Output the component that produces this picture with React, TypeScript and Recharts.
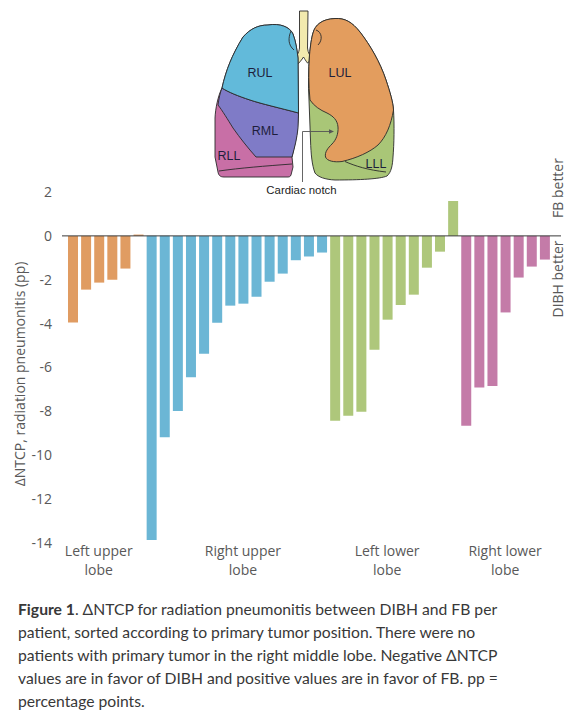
import React from 'react';
import { BarChart, Bar, XAxis, YAxis, Cell, ReferenceLine } from 'recharts';

// ---- data ----
const leftUpper = [-3.95, -2.45, -2.13, -2.0, -1.49, 0.06];
const rightUpper = [-13.86, -9.18, -7.98, -6.45, -5.37, -3.96, -3.18, -3.09, -2.77, -2.09, -1.72, -1.11, -0.94, -0.76];
const leftLower = [-8.43, -8.2, -8.02, -5.19, -3.82, -3.15, -2.68, -1.45, -0.72, 1.59];
const rightLower = [-8.66, -6.91, -6.84, -3.49, -1.9, -1.4, -1.08];

const groupNames = [
  ['Left upper', 'lobe'],
  ['Right upper', 'lobe'],
  ['Left lower', 'lobe'],
  ['Right lower', 'lobe'],
];
const groupColors = ['#E09C62', '#6BB6D5', '#AEC77B', '#C47BA8'];
const groupTickIndex = [2, 13, 24, 33];
const yTicks = [-14, -12, -10, -8, -6, -4, -2, 0, 2];

const groupValues = [leftUpper, rightUpper, leftLower, rightLower];
const data: { id: number; value: number; group: number }[] = [];
groupValues.forEach((vals, g) => {
  vals.forEach((v) => data.push({ id: data.length, value: v, group: g }));
});

const FONT = '"Open Sans", "Noto Sans", sans-serif';
const AXIS_COLOR = '#595959';

const GroupTick = (props: any) => {
  const { x, y, payload } = props;
  const gi = groupTickIndex.indexOf(payload.value);
  if (gi < 0) return null;
  const lines = groupNames[gi];
  return (
    <text x={x} y={y} textAnchor="middle" fill={AXIS_COLOR} fontSize={14} fontFamily={FONT}>
      <tspan x={x} dy={12.7}>{lines[0]}</tspan>
      <tspan x={x} dy={19}>{lines[1]}</tspan>
    </text>
  );
};

const Lungs = () => (
  <svg width={578} height={200} style={{ position: 'absolute', left: 0, top: 0 }}>
    <g stroke="#2a2a2a" strokeWidth={0.9} strokeLinejoin="round">
      {/* trachea */}
      <path
        d="M 299.5,11 L 308,11 L 307.5,48 C 308,53 310,56 312.5,58.5 L 307.5,63 C 305.5,60.5 304.5,58.5 303.5,57 C 302,59.5 299.5,62.5 296,66 L 292,62 C 296,58 299,53 299.5,48 Z"
        fill="#F2EAAE"
      />
      {/* right lung (image left): RLL base */}
      <path
        d="M 268,25 C 280,23 290,27 293,34 C 296,42 297,50 298,58 L 298.5,113 C 298,128 296,140 294.5,146 L 292,157 L 293,167 L 291.5,173 C 291,176 290,177 288,177 L 224,177 C 220,177 218.5,175 218,172 L 215,157 L 215,118 C 215.5,108 218,96 222,88 C 226,70 232,55 243,37 C 250,29 258,25 268,25 Z"
        fill="#C86FA6"
      />
      {/* RML */}
      <path
        d="M 222,88 C 228,92 238,96 250,100 C 262,104 280,108 298.5,113 L 298,128 C 297,138 295,146 292,157 L 256,157 C 248,148 240,138 233,128 C 228,120 222,110 218,105 C 219,98 220,93 222,88 Z"
        fill="#7F7BC7"
      />
      {/* RUL */}
      <path
        d="M 222,88 C 226,70 232,55 243,37 C 250,29 258,25 268,25 C 280,23 290,27 293,34 C 296,42 297,50 298,58 L 298.5,113 C 280,108 262,104 250,100 C 238,96 228,92 222,88 Z"
        fill="#62BADA"
      />
      <path d="M 219,171 C 240,168 265,166 292,164" fill="none" />
      <path d="M 291,31 C 288,38 288,45 294,50" fill="none" />
      {/* left lung (image right): LLL base */}
      <path
        d="M 313,33 C 315,25 322,19 335,18.5 C 345,18 352,22 360,32 C 370,45 380,62 386,80 C 390,92 393,102 393.5,110 C 394.5,125 394,145 393,157 C 392.5,165 391.5,172 387,176 C 380,179 360,180 335,180 C 325,179.5 318,177 315,173 C 312,165 311,155 310.5,140 L 309,100 C 308,85 308.5,70 309.5,55 C 310.5,45 311.5,38 313,33 Z"
        fill="#A9C677"
      />
      {/* LUL */}
      <path
        d="M 313,33 C 315,25 322,19 335,18.5 C 345,18 352,22 360,32 C 370,45 380,62 386,80 C 390,92 393,102 393.5,110 C 391,125 386,137 378,145 C 370,152 357,158 342,161.5 C 334,162.5 327,161 325.5,157 C 324.5,152 328,148 332,144 C 336,140 338.5,134 338,127 C 337.5,120 333,116 327,113 C 320,110 314,106 310,100 C 308.5,85 308.5,70 309.5,55 C 310.5,45 311.5,38 313,33 Z"
        fill="#E39D5E"
      />
      <path d="M 345,161.5 C 355,166 368,170 386,172" fill="none" />
      <path d="M 316,30 C 322,32 323,40 318,45" fill="none" />
    </g>
    {/* cardiac notch pointer */}
    <g stroke="#555" strokeWidth={0.9} fill="none">
      <path d="M 302.5,182 L 302.5,131.5 L 331,131.5" />
    </g>
    <path d="M 334,131.5 L 329,129.3 L 329,133.7 Z" fill="#555" />
    <g fontFamily='"Liberation Sans", Arial, sans-serif' fill="#1E1E3C" fontSize={12.5} textAnchor="middle">
      <text x={260} y={76.5}>RUL</text>
      <text x={340} y={76.5}>LUL</text>
      <text x={265} y={134.5}>RML</text>
      <text x={229} y={159.5}>RLL</text>
      <text x={376} y={167.5}>LLL</text>
    </g>
    <text x={301.5} y={194} fontFamily='"Liberation Sans", Arial, sans-serif' fontSize={11.4} fill="#222" textAnchor="middle">
      Cardiac notch
    </text>
  </svg>
);

const SideLabels = () => (
  <svg width={578} height={600} style={{ position: 'absolute', left: 0, top: 0, pointerEvents: 'none' }}>
    <g fontFamily={FONT} fontSize={14} fill={AXIS_COLOR} textAnchor="middle" dominantBaseline="central">
      <text transform="translate(19,374) rotate(-90)">ΔNTCP, radiation pneumonitis (pp)</text>
      <text transform="translate(557,188) rotate(-90)">FB better</text>
      <text transform="translate(557,279) rotate(-90)">DIBH better</text>
    </g>
  </svg>
);

const captionLines = [
  'ΔNTCP for radiation pneumonitis between DIBH and FB per',
  'patient, sorted according to primary tumor position. There were no',
  'patients with primary tumor in the right middle lobe. Negative ΔNTCP',
  'values are in favor of DIBH and positive values are in favor of FB. pp =',
  'percentage points.',
];

export default function App() {
  return (
    <div style={{ position: 'absolute', left: 0, top: 0, width: 578, height: 719, background: '#fff', overflow: 'hidden' }}>
      <div style={{ position: 'absolute', left: 0, top: 0 }}>
        <BarChart width={578} height={590} data={data} margin={{ top: 192, right: 17, bottom: 7, left: 22 }}>
          <XAxis
            dataKey="id"
            type="category"
            padding={{ left: 4, right: 10 }}
            axisLine={false}
            tickLine={false}
            tickSize={0}
            tickMargin={0}
            ticks={groupTickIndex}
            interval={0}
            tick={<GroupTick />}
            height={40}
          />
          <YAxis
            type="number"
            domain={[-14, 2]}
            ticks={yTicks}
            interval={0}
            axisLine={false}
            tickLine={false}
            tickSize={6}
            tickMargin={4}
            width={40}
            tick={{ fill: AXIS_COLOR, fontSize: 14, fontFamily: FONT }}
          />
          <Bar dataKey="value" barSize={10} isAnimationActive={false}>
            {data.map((d) => (
              <Cell key={d.id} fill={groupColors[d.group]} />
            ))}
          </Bar>
          <ReferenceLine y={0} stroke="#3a3a3a" strokeWidth={1} />
        </BarChart>
      </div>
      <SideLabels />
      <Lungs />
      <div
        style={{
          position: 'absolute',
          left: 18,
          top: 598,
          fontFamily: 'Lato, "Open Sans", sans-serif',
          fontSize: 15.7,
          lineHeight: '23px',
          color: '#383838',
          whiteSpace: 'nowrap',
        }}
      >
        {captionLines.map((l, i) => (
          <div key={i}>
            {i === 0 ? <b>Figure 1</b> : null}
            {i === 0 ? '. ' : null}
            {l}
          </div>
        ))}
      </div>
    </div>
  );
}
